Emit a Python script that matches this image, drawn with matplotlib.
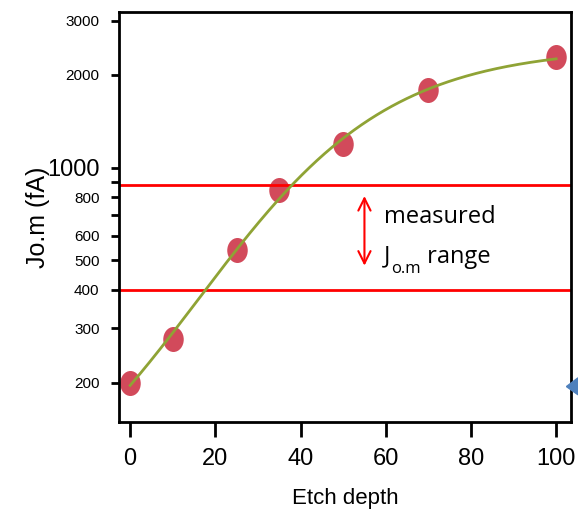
import numpy as np
import matplotlib.pyplot as plt
from matplotlib.path import Path
from matplotlib.patches import Polygon

# datos
etch_depth = [0, 10, 25, 35, 50, 70, 100]
jom = [200, 278, 540, 845, 1190, 1790, 2280]
range_low = 400
range_high = 880
y_ticks = [200, 300, 400, 500, 600, 700, 800, 900, 1000, 2000, 3000]
y_tick_labels = ['200', '300', '400', '500', '600', '', '800', '', '1000', '2000', '3000']
x_ticks = [0, 20, 40, 60, 80, 100]


def fit_logistic(x, ly):
    # ajuste log10(y) = a + b / (1 + exp(-(x - c) / s)), busqueda en rejilla
    x = np.asarray(x, float)
    best = None
    for c in np.linspace(5, 60, 111):
        for s in np.linspace(4, 40, 73):
            g = 1 / (1 + np.exp(-(x - c) / s))
            X = np.column_stack([np.ones_like(x), g])
            p, res, *_ = np.linalg.lstsq(X, ly, rcond=None)
            err = np.sum((X @ p - ly) ** 2)
            if best is None or err < best[0]:
                best = (err, p[0], p[1], c, s)
    _, a, b, c, s = best
    return lambda t: a + b / (1 + np.exp(-(t - c) / s))


fig = plt.figure(figsize=(5.78, 5.12), dpi=100)
ax = fig.add_axes([0.206, 0.176, 0.782, 0.801])
ax.set_yscale('log')

# curva ajustada en escala log
f = fit_logistic(etch_depth, np.log10(jom))
xs = np.linspace(0, 100, 400)
ax.plot(xs, 10 ** f(xs), color='#8fa335', lw=2, zorder=3)

circ = Path.unit_circle()
ellipse = Path(circ.vertices * [0.82, 1.0], circ.codes)
ax.plot(etch_depth, jom, ls='none', marker=ellipse, ms=18,
        color='#d24a5b', mec='none', zorder=2)

ax.axhline(range_high, xmin=0.003, xmax=0.997, color='red', lw=2)
ax.axhline(range_low, xmin=0.003, xmax=0.997, color='red', lw=2)

ax.annotate('', xy=(55, 470), xytext=(55, 825),
            arrowprops=dict(arrowstyle='<->', color='red', lw=1.5,
                            mutation_scale=22))
ax.text(59.5, 690, 'measured', fontsize=17, family='Open Sans', va='center')
tj = ax.text(59.5, 490, 'J', fontsize=17, family='Open Sans', va='baseline')
ts = ax.annotate('o.m', xy=(1.0, 0.0), xycoords=tj, xytext=(1, -5.5),
                 textcoords='offset points', fontsize=12,
                 family='Open Sans', va='bottom', ha='left')
ax.annotate(' range', xy=(1.0, 0.0), xycoords=(ts, tj), fontsize=17,
            family='Open Sans', va='bottom', ha='left')

ax.set_xlim(-2.6, 103.5)
ax.set_ylim(149, 3210)
ax.set_xticks(x_ticks)
ax.set_xticklabels([str(t) for t in x_ticks], fontsize=17,
                   family='Liberation Sans')
ax.yaxis.set_minor_locator(plt.NullLocator())
ax.set_yticks(y_ticks)
ax.set_yticklabels(y_tick_labels, fontsize=11, family='Liberation Sans')
for t, v in zip(ax.yaxis.get_major_ticks(), y_ticks):
    if v == 1000:
        t.label1.set_fontsize(17)
        t.tick1line.set_markersize(11)
ax.tick_params(axis='y', length=6, width=2, pad=8)
ax.tick_params(axis='x', length=11, width=2, pad=8)
for s in ax.spines.values():
    s.set_linewidth(2)

ax.set_xlabel('Etch depth', fontsize=16, family='Liberation Sans', labelpad=13)
ax.set_ylabel('Jo.m (fA)', fontsize=18, family='Liberation Sans', labelpad=-2)

# trozo de flecha azul en el borde
fig.patches.append(Polygon([[1.0, 0.262], [0.980, 0.245], [1.0, 0.229]],
                           closed=True, transform=fig.transFigure,
                           color='#4f81bd'))

fig.savefig('out.png', dpi=100)
